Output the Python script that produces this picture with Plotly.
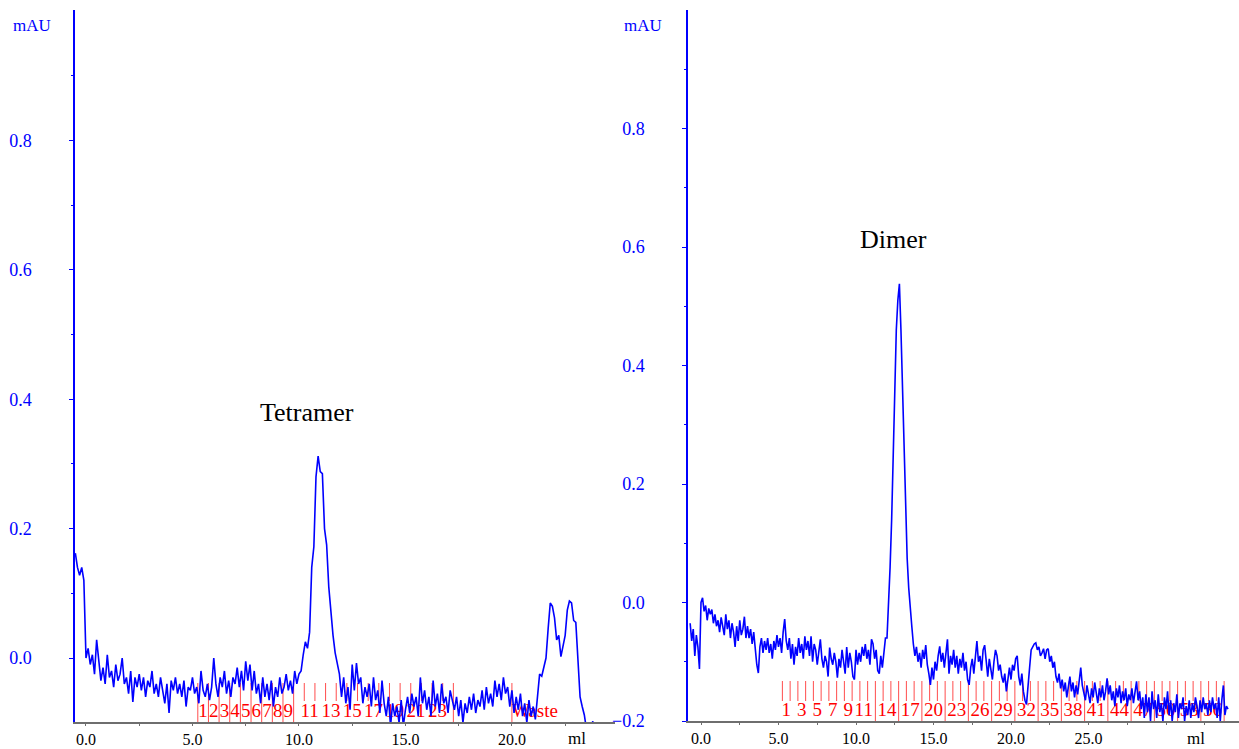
import plotly.graph_objects as go

# ---------------- data ----------------
left_ml = [
 -0.5,-0.4,-0.3,-0.2,-0.1,
 0.0,0.1,0.2,0.3,0.4,0.5,0.6,0.7,0.8,0.9,
 1.0,1.1,1.2,1.3,1.4,1.5,1.6,1.7,1.8,1.9,
 2.0,2.1,2.2,2.3,2.4,2.5,2.6,2.7,2.8,2.9,
 3.0,3.1,3.2,3.3,3.4,3.5,3.6,3.7,3.8,3.9,
 4.0,4.1,4.2,4.3,4.4,4.5,4.6,4.7,4.8,4.9,
 5.0,5.1,5.2,5.3,5.4,5.5,5.6,5.7,5.8,5.9,
 6.0,6.1,6.2,6.3,6.4,6.5,6.6,6.7,6.8,6.9,
 7.0,7.1,7.2,7.3,7.4,7.5,7.6,7.7,7.8,7.9,
 8.0,8.1,8.2,8.3,8.4,8.5,8.6,8.7,8.8,8.9,
 9.0,9.1,9.2,9.3,9.4,9.5,9.6,9.7,9.8,9.9,
 10.0,10.1,10.2,10.3,10.4,10.5,10.6,10.7,10.8,10.9,
 11.0,11.1,11.2,11.3,11.4,11.5,11.6,11.7,11.8,11.9,
 12.0,12.1,12.2,12.3,12.4,12.5,12.6,12.7,12.8,12.9,
 13.0,13.1,13.2,13.3,13.4,13.5,13.6,13.7,13.8,13.9,
 14.0,14.1,14.2,14.3,14.4,14.5,14.6,14.7,14.8,14.9,
 15.0,15.1,15.2,15.3,15.4,15.5,15.6,15.7,15.8,15.9,
 16.0,16.1,16.2,16.3,16.4,16.5,16.6,16.7,16.8,16.9,
 17.0,17.1,17.2,17.3,17.4,17.5,17.6,17.7,17.8,17.9,
 18.0,18.1,18.2,18.3,18.4,18.5,18.6,18.7,18.8,18.9,
 19.0,19.1,19.2,19.3,19.4,19.5,19.6,19.7,19.8,19.9,
 20.0,20.1,20.2,20.3,20.4,20.5,20.6,20.7,20.8,20.9,
 21.0,21.1,21.2,21.3,21.4,21.5,21.6,21.7,21.8,21.9,
 22.0,22.1,22.2,22.3,22.4,22.5,22.6,22.7,22.8,22.9,
 23.0,23.1,23.2,23.3,23.4,23.5,23.6,23.7,23.8,23.9,
 24.0,24.1,24.2,
]
left_mau = [
 0.162,0.140,0.128,0.140,0.120,
 0.000,0.015,-0.010,0.005,-0.025,0.028,-0.010,-0.035,-0.015,-0.040,
 0.005,-0.030,-0.020,-0.045,-0.010,-0.035,-0.025,0.000,-0.040,-0.030,
 -0.055,-0.020,-0.068,-0.030,-0.045,-0.025,-0.050,-0.030,-0.060,-0.035,
 -0.045,-0.020,-0.055,-0.040,-0.060,-0.030,-0.050,-0.070,-0.040,-0.085,
 -0.035,-0.050,-0.030,-0.055,-0.040,-0.060,-0.035,-0.075,-0.045,-0.050,
 -0.030,-0.055,-0.045,-0.070,-0.020,-0.050,-0.060,-0.040,-0.065,-0.045,
 0.000,-0.040,-0.060,-0.030,-0.045,-0.020,-0.055,-0.035,-0.060,-0.030,
 -0.040,-0.015,-0.045,-0.020,-0.050,-0.005,-0.035,-0.010,-0.050,-0.020,
 -0.055,-0.040,-0.070,-0.030,-0.060,-0.040,-0.065,-0.035,-0.075,-0.045,
 -0.060,-0.030,-0.055,-0.045,-0.025,-0.050,-0.035,-0.055,-0.020,-0.040,
 -0.025,-0.020,0.005,0.025,0.015,0.040,0.140,0.172,0.280,0.312,
 0.288,0.285,0.200,0.175,0.110,0.065,0.035,0.008,-0.010,-0.025,
 -0.060,-0.030,-0.070,-0.045,-0.080,-0.010,-0.050,-0.008,-0.040,-0.030,
 -0.070,-0.045,-0.060,-0.040,-0.075,-0.030,-0.065,-0.050,-0.085,-0.035,
 -0.070,-0.090,-0.060,-0.105,-0.070,-0.090,-0.075,-0.100,-0.065,-0.105,
 -0.080,-0.060,-0.085,-0.055,-0.075,-0.060,-0.090,-0.030,-0.070,-0.050,
 -0.080,-0.060,-0.090,-0.035,-0.075,-0.055,-0.085,-0.040,-0.070,-0.060,
 -0.085,-0.050,-0.065,-0.080,-0.060,-0.090,-0.065,-0.100,-0.070,-0.085,
 -0.060,-0.080,-0.055,-0.085,-0.065,-0.075,-0.050,-0.080,-0.045,-0.070,
 -0.055,-0.075,-0.035,-0.060,-0.040,-0.065,-0.030,-0.055,-0.045,-0.075,
 -0.050,-0.085,-0.060,-0.080,-0.055,-0.090,-0.070,-0.100,-0.065,-0.090,
 -0.075,-0.095,-0.060,-0.025,-0.028,-0.015,0.000,0.045,0.085,0.080,
 0.062,0.028,0.035,0.002,0.020,0.035,0.074,0.088,0.085,0.058,
 0.055,0.000,-0.060,-0.075,-0.088,-0.110,-0.120,-0.105,-0.098,-0.115,
 -0.100,-0.110,-0.100,
]

right_ml = [
 -0.7,-0.6,-0.5,-0.4,-0.3,-0.2,-0.1,
 0.0,0.1,0.2,0.3,0.4,0.5,0.6,0.7,0.8,0.9,
 1.0,1.1,1.2,1.3,1.4,1.5,1.6,1.7,1.8,1.9,
 2.0,2.1,2.2,2.3,2.4,2.5,2.6,2.7,2.8,2.9,
 3.0,3.1,3.2,3.3,3.4,3.5,3.6,3.7,3.8,3.9,
 4.0,4.1,4.2,4.3,4.4,4.5,4.6,4.7,4.8,4.9,
 5.0,5.1,5.2,5.3,5.4,5.5,5.6,5.7,5.8,5.9,
 6.0,6.1,6.2,6.3,6.4,6.5,6.6,6.7,6.8,6.9,
 7.0,7.1,7.2,7.3,7.4,7.5,7.6,7.7,7.8,7.9,
 8.0,8.1,8.2,8.3,8.4,8.5,8.6,8.7,8.8,8.9,
 9.0,9.1,9.2,9.3,9.4,9.5,9.6,9.7,9.8,9.9,
 10.0,10.1,10.2,10.3,10.4,10.5,10.6,10.7,10.8,10.9,
 11.0,11.1,11.2,11.3,11.4,11.5,11.6,11.7,11.8,11.9,
 12.0,12.1,12.2,12.3,12.4,12.5,12.6,12.7,12.8,12.9,
 13.0,13.1,13.2,13.3,13.4,13.5,13.6,13.7,13.8,13.9,
 14.0,14.1,14.2,14.3,14.4,14.5,14.6,14.7,14.8,14.9,
 15.0,15.1,15.2,15.3,15.4,15.5,15.6,15.7,15.8,15.9,
 16.0,16.1,16.2,16.3,16.4,16.5,16.6,16.7,16.8,16.9,
 17.0,17.1,17.2,17.3,17.4,17.5,17.6,17.7,17.8,17.9,
 18.0,18.1,18.2,18.3,18.4,18.5,18.6,18.7,18.8,18.9,
 19.0,19.1,19.2,19.3,19.4,19.5,19.6,19.7,19.8,19.9,
 20.0,20.1,20.2,20.3,20.4,20.5,20.6,20.7,20.8,20.9,
 21.0,21.1,21.2,21.3,21.4,21.5,21.6,21.7,21.8,21.9,
 22.0,22.1,22.2,22.3,22.4,22.5,22.6,22.7,22.8,22.9,
 23.0,23.1,23.2,23.3,23.4,23.5,23.6,23.7,23.8,23.9,
 24.0,24.1,24.2,24.3,24.4,24.5,24.6,24.7,24.8,24.9,
 25.0,25.1,25.2,25.3,25.4,25.5,25.6,25.7,25.8,25.9,
 26.0,26.1,26.2,26.3,26.4,26.5,26.6,26.7,26.8,26.9,
 27.0,27.1,27.2,27.3,27.4,27.5,27.6,27.7,27.8,27.9,
 28.0,28.1,28.2,28.3,28.4,28.5,28.6,28.7,28.8,28.9,
 29.0,29.1,29.2,29.3,29.4,29.5,29.6,29.7,29.8,29.9,
 30.0,30.1,30.2,30.3,30.4,30.5,30.6,30.7,30.8,30.9,
 31.0,31.1,31.2,31.3,31.4,31.5,31.6,31.7,31.8,31.9,
 32.0,32.1,32.2,32.3,32.4,32.5,32.6,32.7,32.8,32.9,
 33.0,33.1,33.2,33.3,33.4,33.5,33.6,33.7,33.8,33.9,
 34.0,
]
right_mau = [
 -0.035,-0.065,-0.045,-0.090,-0.055,-0.075,-0.112,
 0.000,0.008,-0.015,-0.005,-0.030,-0.010,-0.020,-0.012,-0.035,-0.020,
 -0.040,-0.030,-0.050,-0.025,-0.040,-0.055,-0.020,-0.045,-0.030,-0.060,
 -0.035,-0.050,-0.075,-0.040,-0.065,-0.030,-0.055,-0.045,-0.024,-0.060,
 -0.040,-0.060,-0.045,-0.070,-0.050,-0.080,-0.105,-0.119,-0.075,-0.060,
 -0.085,-0.065,-0.080,-0.060,-0.085,-0.070,-0.095,-0.065,-0.080,-0.055,
 -0.075,-0.060,-0.085,-0.050,-0.028,-0.065,-0.080,-0.060,-0.095,-0.070,
 -0.105,-0.075,-0.090,-0.060,-0.085,-0.070,-0.095,-0.057,-0.080,-0.065,
 -0.090,-0.057,-0.100,-0.070,-0.080,-0.105,-0.085,-0.062,-0.095,-0.110,
 -0.090,-0.100,-0.125,-0.076,-0.095,-0.105,-0.085,-0.100,-0.127,-0.095,
 -0.110,-0.080,-0.100,-0.120,-0.075,-0.110,-0.085,-0.100,-0.125,-0.130,
 -0.080,-0.105,-0.085,-0.100,-0.075,-0.090,-0.070,-0.095,-0.080,-0.105,
 -0.062,-0.070,-0.095,-0.080,-0.115,-0.120,-0.090,-0.110,-0.085,-0.060,
 -0.060,-0.005,0.060,0.140,0.250,0.370,0.460,0.510,0.538,0.460,
 0.360,0.255,0.150,0.075,0.025,-0.015,-0.040,-0.070,-0.090,-0.075,
 -0.100,-0.085,-0.110,-0.080,-0.095,-0.072,-0.105,-0.120,-0.139,-0.110,
 -0.130,-0.100,-0.115,-0.090,-0.074,-0.100,-0.085,-0.110,-0.080,-0.062,
 -0.120,-0.090,-0.105,-0.080,-0.110,-0.090,-0.120,-0.095,-0.110,-0.085,
 -0.115,-0.100,-0.130,-0.139,-0.110,-0.095,-0.120,-0.085,-0.065,-0.100,
 -0.090,-0.115,-0.080,-0.072,-0.105,-0.125,-0.095,-0.110,-0.130,-0.100,
 -0.080,-0.090,-0.115,-0.105,-0.125,-0.135,-0.120,-0.150,-0.125,-0.110,
 -0.130,-0.105,-0.115,-0.095,-0.090,-0.125,-0.140,-0.120,-0.150,-0.165,
 -0.172,-0.135,-0.110,-0.080,-0.075,-0.070,-0.068,-0.080,-0.075,-0.090,
 -0.085,-0.078,-0.095,-0.080,-0.078,-0.100,-0.090,-0.110,-0.100,-0.125,
 -0.135,-0.120,-0.145,-0.130,-0.150,-0.135,-0.160,-0.140,-0.125,-0.150,
 -0.135,-0.160,-0.140,-0.155,-0.130,-0.110,-0.140,-0.150,-0.165,-0.140,
 -0.155,-0.170,-0.145,-0.160,-0.135,-0.150,-0.170,-0.145,-0.160,-0.140,
 -0.165,-0.150,-0.128,-0.155,-0.140,-0.165,-0.150,-0.175,-0.145,-0.160,
 -0.140,-0.170,-0.150,-0.165,-0.145,-0.175,-0.155,-0.165,-0.145,-0.170,
 -0.150,-0.133,-0.165,-0.150,-0.180,-0.160,-0.195,-0.155,-0.185,-0.160,
 -0.200,-0.150,-0.180,-0.165,-0.195,-0.155,-0.185,-0.170,-0.200,-0.160,
 -0.180,-0.150,-0.190,-0.165,-0.200,-0.170,-0.185,-0.155,-0.195,-0.170,
 -0.180,-0.160,-0.200,-0.175,-0.190,-0.165,-0.195,-0.170,-0.185,-0.160,
 -0.175,-0.195,-0.165,-0.185,-0.160,-0.180,-0.170,-0.190,-0.165,-0.185,
 -0.160,-0.180,-0.170,-0.195,-0.160,-0.200,-0.165,-0.140,-0.190,-0.175,
 -0.180,
]
assert len(left_ml) == len(left_mau)
assert len(right_ml) == len(right_mau)

# fraction boundaries (ml)
left_frac_ml = [5.25, 5.75, 6.25, 6.75, 7.25, 7.75, 8.25, 8.75, 9.25, 9.75,
                10.25, 10.75, 11.25, 11.75, 12.25, 12.75, 13.25, 13.75, 14.25,
                14.75, 15.25, 15.75, 16.25, 16.75, 17.25]
left_frac_full = [0, 1, 2, 3, 4, 5, 6, 7, 8, 9, 24]
left_frac_labels = [1, 2, 3, 4, 5, 6, 7, 8, 9, 11, 13, 15, 17, 19, 21, 23]
left_waste_ml = 20.0

right_frac_ml = [5.25, 5.75, 6.25, 6.75, 7.25, 7.75, 8.25, 8.75, 9.25, 9.75,
                 10.25, 10.75, 11.25, 11.75, 12.25, 12.75, 13.25, 13.75, 14.25,
                 14.75, 15.25, 15.75, 16.25, 16.75, 17.25, 17.75, 18.25, 18.75,
                 19.25, 19.75, 20.25, 20.75, 21.25, 21.75, 22.25, 22.75, 23.25,
                 23.75, 24.25, 24.75, 25.25, 25.75, 26.25, 26.75, 27.25, 27.75,
                 28.25, 28.75, 29.25, 29.75, 30.25, 30.75, 31.25, 31.75, 32.25,
                 32.75, 33.25, 33.75]
right_frac_full = [12, 15, 18, 21, 24, 27, 30, 33, 36, 39, 42, 45, 48, 51, 54, 57]
right_frac_labels = [1, 3, 5, 7, 9, 11, 14, 17, 20, 23, 26, 29, 32, 35, 38, 41,
                     44, 47, 50, 53, 56]

left_xticks = [0, 5, 10, 15, 20]
left_xminor = [2.5, 7.5, 12.5, 17.5, 22.5]
right_xticks = [0, 5, 10, 15, 20, 25]
right_xminor = [2.5, 7.5, 12.5, 17.5, 22.5, 27.5, 30, 32.5]
left_yticks = [0.0, 0.2, 0.4, 0.6, 0.8]
left_yminor = [0.1, 0.3, 0.5, 0.7, 0.9]
right_yticks = [-0.2, 0.0, 0.2, 0.4, 0.6, 0.8]
right_yminor = [-0.1, 0.1, 0.3, 0.5, 0.7, 0.9]

# ---------------- style ----------------
W, H = 1239, 749
SERIF = "Liberation Serif, Times New Roman, serif"
BLUE = "#0000FF"
RED = "#FF0000"
AXGRAY = "#6E6E6E"
FRAC_LINE = "rgba(255,0,0,0.7)"

L_DOM_X = [75 / W, 615 / W]
R_DOM_X = [688 / W, 1.0]
L_DOM_Y = [1 - 722 / H, 1 - 10 / H]
R_DOM_Y = [1 - 721 / H, 1 - 10 / H]
L_XR = [-0.516, 24.84]
R_XR = [-0.839, 34.71]
L_YR = [-0.0989, 1.0015]
R_YR = [-0.2, 1.0]

fig = go.Figure()

def centers(bounds, labels):
    return [(bounds[n - 1] + bounds[n]) / 2 for n in labels]

FRAC_FONT = dict(family=SERIF, size=19, color=RED)

# fraction label text (drawn below the UV trace)
fig.add_trace(go.Scatter(
    x=centers(left_frac_ml, left_frac_labels), y=[L_YR[0]] * len(left_frac_labels),
    text=[str(n) for n in left_frac_labels], mode="text", textposition="top center",
    textfont=FRAC_FONT, cliponaxis=False,
    xaxis="x", yaxis="y", hoverinfo="skip", showlegend=False))
fig.add_trace(go.Scatter(
    x=[left_waste_ml], y=[L_YR[0]], text=["Waste"], mode="text",
    textposition="top right", textfont=FRAC_FONT,
    cliponaxis=False, xaxis="x", yaxis="y", hoverinfo="skip", showlegend=False))
fig.add_trace(go.Scatter(
    x=centers(right_frac_ml, right_frac_labels), y=[R_YR[0]] * len(right_frac_labels),
    text=[str(n) for n in right_frac_labels], mode="text", textposition="top center",
    textfont=FRAC_FONT, cliponaxis=False,
    xaxis="x2", yaxis="y2", hoverinfo="skip", showlegend=False))

# UV traces
fig.add_trace(go.Scatter(x=left_ml, y=left_mau, mode="lines",
                         line=dict(color=BLUE, width=1.6), xaxis="x", yaxis="y",
                         showlegend=False))
fig.add_trace(go.Scatter(x=right_ml, y=right_mau, mode="lines",
                         line=dict(color=BLUE, width=1.6), xaxis="x2", yaxis="y2",
                         showlegend=False))

# fraction marks
shapes = []
def frac_shapes(bounds, full_idx, xref, yref, top, short_bottom):
    out = []
    for i, b in enumerate(bounds):
        y0 = 0 if i in full_idx else short_bottom
        out.append(dict(type="line", xref=xref, yref=yref, x0=b, x1=b, y0=y0, y1=top,
                        line=dict(color=FRAC_LINE, width=1), layer="below"))
    return out

shapes += frac_shapes(left_frac_ml, left_frac_full, "x", "y domain",
                      (722 - 683) / 712, (722 - 701) / 712)
shapes.append(dict(type="line", xref="x", yref="y domain", x0=left_waste_ml,
                   x1=left_waste_ml, y0=0, y1=(722 - 683) / 712,
                   line=dict(color=FRAC_LINE, width=1), layer="below"))
shapes += frac_shapes(right_frac_ml, right_frac_full, "x2", "y2 domain",
                      (721 - 681) / 711, (721 - 701) / 711)

def xaxis(dom, rng, ticks, minor, anchor):
    return dict(domain=dom, range=rng, anchor=anchor, showgrid=False, zeroline=False,
                showline=True, linecolor=AXGRAY, linewidth=2, ticks="outside",
                ticklen=2, tickcolor=AXGRAY, tickwidth=1, tickvals=ticks,
                tickformat=".1f", tickfont=dict(family=SERIF, size=16, color="black"),
                ticklabelstandoff=0,
                minor=dict(tickvals=minor, ticks="outside", ticklen=2,
                           tickcolor=AXGRAY, tickwidth=1),
                fixedrange=True)

def yaxis(dom, rng, ticks, minor, anchor):
    return dict(domain=dom, range=rng, anchor=anchor, showgrid=False, zeroline=False,
                showline=True, linecolor=BLUE, linewidth=1.5, ticks="outside",
                ticklen=4, tickcolor=BLUE, tickwidth=1, tickvals=ticks,
                tickformat=".1f", tickfont=dict(family=SERIF, size=18, color=BLUE),
                ticklabelstandoff=34,
                minor=dict(tickvals=minor, ticks="outside", ticklen=2,
                           tickcolor=BLUE, tickwidth=1),
                fixedrange=True)

annotations = [
    dict(text="mAU", xref="paper", yref="paper", x=11 / W, y=1 - 26 / H,
         xanchor="left", yanchor="middle", showarrow=False,
         font=dict(family=SERIF, size=17, color=BLUE)),
    dict(text="mAU", xref="paper", yref="paper", x=622 / W, y=1 - 26 / H,
         xanchor="left", yanchor="middle", showarrow=False,
         font=dict(family=SERIF, size=17, color=BLUE)),
    dict(text="ml", xref="x", yref="paper", x=23.05, y=1 - 738 / H,
         xanchor="center", yanchor="middle", showarrow=False,
         font=dict(family=SERIF, size=17, color="black")),
    dict(text="ml", xref="x2", yref="paper", x=31.96, y=1 - 738 / H,
         xanchor="center", yanchor="middle", showarrow=False,
         font=dict(family=SERIF, size=17, color="black")),
    dict(text="Tetramer", xref="x", yref="y", x=10.38, y=0.38,
         xanchor="center", yanchor="middle", showarrow=False,
         font=dict(family=SERIF, size=26, color="black")),
    dict(text="Dimer", xref="x2", yref="y2", x=12.44, y=0.613,
         xanchor="center", yanchor="middle", showarrow=False,
         font=dict(family=SERIF, size=26, color="black")),
]

fig.update_layout(
    width=W, height=H, margin=dict(l=0, r=0, t=0, b=0, autoexpand=False),
    paper_bgcolor="white", plot_bgcolor="white", showlegend=False,
    xaxis=xaxis(L_DOM_X, L_XR, left_xticks, left_xminor, "y"),
    yaxis=yaxis(L_DOM_Y, L_YR, left_yticks, left_yminor, "x"),
    xaxis2=xaxis(R_DOM_X, R_XR, right_xticks, right_xminor, "y2"),
    yaxis2=yaxis(R_DOM_Y, R_YR, right_yticks, right_yminor, "x2"),
    shapes=shapes, annotations=annotations,
)

fig.write_html("out.html", config={"displayModeBar": False},
               post_script="document.body.style.margin='0';document.body.style.overflow='hidden';")
